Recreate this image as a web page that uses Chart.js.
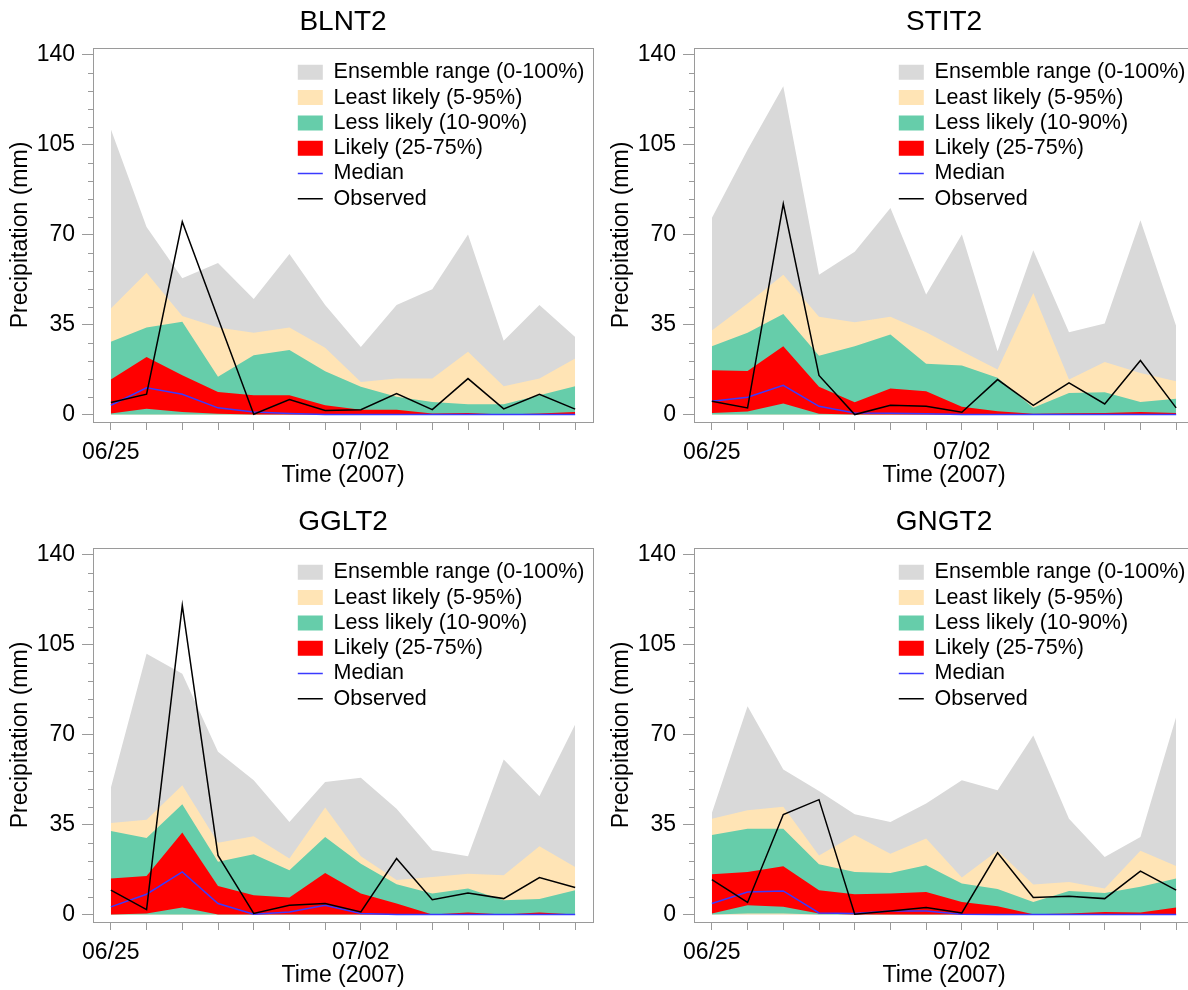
<!DOCTYPE html>
<html>
<head>
<meta charset="utf-8">
<title>Ensemble precipitation</title>
<script src="https://cdn.jsdelivr.net/npm/chart.js@4.4.1/dist/chart.umd.min.js"></script>
<style>
  html, body { margin: 0; padding: 0; background: #fff; width: 1188px; height: 990px; overflow: hidden; }
  .panel { position: absolute; width: 600px; height: 495px; }
</style>
</head>
<body>
<div class="panel" style="left:0;top:0"><canvas id="blnt2" width="600" height="495"></canvas></div>
<div class="panel" style="left:601px;top:0"><canvas id="stit2" width="600" height="495"></canvas></div>
<div class="panel" style="left:0;top:500px"><canvas id="gglt2" width="600" height="495"></canvas></div>
<div class="panel" style="left:601px;top:500px"><canvas id="gngt2" width="600" height="495"></canvas></div>
<script>
// daily dates, only two of them get a label
const days = ['06/25', '06/26', '06/27', '06/28', '06/29', '06/30', '07/01',
              '07/02', '07/03', '07/04', '07/05', '07/06', '07/07', '07/08'];
const shownDays = ['06/25', '07/02'];
const yMajorTicks = [0, 35, 70, 105, 140];
const yMinorTicks = [7, 14, 21, 28, 42, 49, 56, 63, 77, 84, 91, 98, 112, 119, 126, 133];
const zeroLine = [0, 0, 0, 0, 0, 0, 0, 0, 0, 0, 0, 0, 0, 0];

// BLNT2
const blntMax = [111, 73, 53, 59, 45, 62.5, 42.6, 26.3, 42.6, 48.7, 70, 28.7, 42.6, 30.2];
const blntP95 = [41.3, 55.2, 38.3, 33.9, 31.8, 33.9, 26, 12.7, 14, 14, 24.4, 11, 14, 21.8];
const blntP90 = [28.3, 33.9, 36.1, 14.7, 23.1, 25.1, 16.8, 10.8, 6.9, 4.9, 4, 4, 7.5, 11];
const blntP75 = [13.6, 22.4, 15.3, 8.8, 7.5, 7.5, 3.6, 1.9, 1.9, 0.4, 0.6, 0, 0.4, 1];
const blntP25 = [0.4, 2.3, 1, 0.3, 0, 0, 0, 0, 0, 0, 0, 0, 0, 0];
const blntP10 = [0, 0, 0, 0, 0, 0, 0, 0, 0, 0, 0, 0, 0, 0];
const blntMedian = [3.6, 10.4, 7.9, 2.6, 1, 0.4, 0, 0, 0, 0, 0, 0, 0, 0];
const blntObs = [4.7, 7.9, 75, 37.5, 0.1, 5.8, 1.6, 1.9, 8.2, 1.9, 14, 2.2, 7.9, 2.1];

// STIT2
const stitMax = [76.5, 103, 127.7, 54.4, 63.3, 80.4, 46.7, 70, 24.6, 63.9, 32, 35.4, 75.6, 34.4];
const stitP95 = [32.7, 43.2, 54.4, 38, 35.9, 38, 32, 24.6, 17.5, 47.3, 13.6, 20.4, 16.2, 13];
const stitP90 = [26.6, 31.8, 39.1, 22.9, 26.6, 31.1, 19.8, 19.1, 14.3, 2.6, 8.4, 8.7, 4.9, 6.1];
const stitP75 = [17.2, 16.9, 26.6, 10.8, 4.8, 10.1, 9.1, 3, 1.3, 0.3, 0.5, 0.6, 1, 0.6];
const stitP25 = [0.6, 1.2, 4.3, 0.3, 0, 0, 0, 0, 0, 0, 0, 0, 0, 0];
const stitP10 = [0, 0, 0, 0, 0, 0, 0, 0, 0, 0, 0, 0, 0, 0];
const stitMedian = [5.2, 6.7, 11.4, 3.2, 0.6, 0.5, 0.3, 0, 0, 0, 0, 0, 0, 0];
const stitObs = [5.2, 2.6, 82, 15.2, 0, 3.6, 3.2, 0.9, 13.6, 3.6, 12.3, 4.1, 21, 2.6];

// GGLT2
const ggltMax = [49.3, 101.5, 93.7, 63.3, 52.2, 36, 51.6, 53.2, 41.2, 25, 22.7, 60.3, 46, 73.9];
const ggltP95 = [35.6, 36.9, 50.3, 27.9, 30.5, 21.8, 41.6, 22.7, 13.4, 14.6, 15.9, 15.3, 26.6, 18.5];
const ggltP90 = [32.5, 29.8, 42.9, 20.5, 23.5, 17.2, 30.2, 19.8, 11.8, 8.2, 10.1, 5.6, 6, 9.5];
const ggltP75 = [14, 15, 31.9, 11.1, 7.5, 6.6, 16.2, 8.2, 4.3, 0, 0.8, 0, 0.8, 0];
const ggltP25 = [0, 0.4, 2.7, 0, 0, 0, 0, 0, 0, 0, 0, 0, 0, 0];
const ggltP10 = [0, 0, 0, 0, 0, 0, 0, 0, 0, 0, 0, 0, 0, 0];
const ggltMedian = [3, 7.9, 16.6, 4.3, 0.1, 1, 3.6, 0.4, 0, 0, 0, 0, 0, 0];
const ggltObs = [9.5, 1.9, 120.3, 23, 0.4, 3.6, 4.3, 1, 21.8, 5.8, 8.4, 6.2, 14.4, 10.5];

// GNGT2
const gngtMax = [39.5, 81, 56.4, 48.1, 39, 36, 43.2, 52.2, 48.4, 69.7, 37.3, 22.4, 30.2, 76.9];
const gngtP95 = [37.3, 40.6, 41.9, 23, 30.9, 23.7, 29.6, 14.4, 24.8, 11.7, 12.7, 10.1, 24.8, 18.9];
const gngtP90 = [30.9, 33.4, 33.4, 19.6, 16.6, 16.2, 19.2, 12.1, 9.9, 4.9, 9.2, 8.4, 10.8, 14];
const gngtP75 = [15.7, 16.6, 18.8, 9.5, 7.9, 8.2, 8.8, 4.9, 3.2, 0.1, 0.4, 1, 0.8, 2.7];
const gngtP25 = [0.4, 3.6, 3, 0.4, 0, 0, 0, 0, 0, 0, 0, 0, 0, 0];
const gngtP10 = [0, 0.4, 0.4, 0, 0, 0, 0, 0, 0, 0, 0, 0, 0, 0];
const gngtMedian = [4.3, 8.8, 9.2, 0.6, 0.4, 1.4, 1.4, 0.1, 0, 0, 0, 0, 0, 0];
const gngtObs = [13.6, 4.7, 38.9, 44.7, 0.1, 1.4, 2.7, 0.6, 24, 6.6, 7.1, 6.2, 16.9, 9.5];

const FRAME = '#9a9a9a';
const NONE = 'rgba(0,0,0,0)';

Chart.defaults.font.family = '"Liberation Sans", Arial, Helvetica, sans-serif';
Chart.defaults.color = '#000';

// box around the plot plus the short minor ticks on the y axis
const framePlugin = {
    id: 'frame',
    afterDatasetsDraw(chart) {
        const { ctx, chartArea: a, scales } = chart;
        ctx.save();
        ctx.strokeStyle = FRAME;
        ctx.lineWidth = 1;
        ctx.strokeRect(a.left + 0.5, a.top + 0.5, a.right - a.left, a.bottom - a.top);
        ctx.beginPath();
        yMinorTicks.forEach(v => {
            const py = Math.round(scales.y.getPixelForValue(v)) + 0.5;
            ctx.moveTo(a.left - 5, py);
            ctx.lineTo(a.left + 0.5, py);
        });
        ctx.stroke();
        ctx.restore();
    }
};

// move the legend into the upper right part of the plot
const legendPlacer = {
    id: 'legendPlacer',
    afterLayout(chart) {
        const lg = chart.legend;
        const a = chart.chartArea;
        lg.left = a.left + 201;
        lg.right = lg.left + lg.width;
        lg.top = a.top + 9.75;
    }
};

function band(lower, upper, label, color, order) {
    return [
        { data: lower, borderColor: NONE, backgroundColor: NONE, fill: false, order: order },
        { label: label, data: upper, borderColor: NONE, borderWidth: 0, backgroundColor: color, fill: '-1', order: order }
    ];
}

function createPanel(canvasId, name, mx, p95, p90, p75, p25, p10, median, obs) {
    const ctx = document.getElementById(canvasId);
    return new Chart(ctx, {
        type: 'line',
        data: {
            labels: days,
            datasets: [
                ...band(zeroLine, mx, 'Ensemble range (0-100%)', '#d9d9d9', 5),
                ...band(zeroLine, p95, 'Least likely (5-95%)', '#ffe4b5', 4),
                ...band(p10, p90, 'Less likely (10-90%)', '#66cdaa', 3),
                ...band(p25, p75, 'Likely (25-75%)', '#ff0000', 2),
                { label: 'Median', data: median, borderColor: '#3a3aff', backgroundColor: '#3a3aff', borderWidth: 1.5, fill: false, order: 1 },
                { label: 'Observed', data: obs, borderColor: '#000', backgroundColor: '#000', borderWidth: 1.5, fill: false, order: 0 }
            ]
        },
        options: {
            responsive: false,
            animation: false,
            layout: { padding: { left: 0, right: 7, top: 0, bottom: 0 } },
            elements: { point: { radius: 0 }, line: { tension: 0 } },
            plugins: {
                title: {
                    display: true,
                    text: name,
                    fullSize: false,
                    color: '#000',
                    font: { size: 28, weight: 'normal' },
                    padding: { top: 5.7, bottom: 8.7 }
                },
                legend: {
                    position: 'chartArea',
                    align: 'start',
                    labels: {
                        usePointStyle: true,
                        pointStyleWidth: 25,
                        boxHeight: 15,
                        padding: 3.8,
                        color: '#000',
                        font: { size: 21.5 },
                        generateLabels(chart) {
                            return chart.data.datasets
                                .map((ds, i) => ({ ds, i }))
                                .filter(o => o.ds.label)
                                .map(({ ds, i }) => ({
                                    text: ds.label,
                                    fillStyle: ds.fill ? ds.backgroundColor : NONE,
                                    strokeStyle: ds.borderColor,
                                    lineWidth: ds.fill ? 0 : ds.borderWidth,
                                    pointStyle: ds.fill ? 'rect' : 'line',
                                    fontColor: '#000',
                                    hidden: false,
                                    datasetIndex: i
                                }));
                        }
                    }
                },
                tooltip: { enabled: false }
            },
            scales: {
                x: {
                    type: 'category',
                    offset: true,
                    border: { display: false },
                    grid: { offset: false, drawOnChartArea: false, tickLength: 8, color: FRAME },
                    ticks: {
                        autoSkip: false,
                        maxRotation: 0,
                        padding: 9,
                        color: '#000',
                        font: { size: 23 },
                        callback: (value, index) => shownDays.includes(days[index]) ? days[index] : ''
                    },
                    title: {
                        display: true,
                        text: 'Time (2007)',
                        color: '#000',
                        font: { size: 23 },
                        padding: { top: 0, bottom: 6 }
                    },
                    afterFit(scale) { scale.height = 73; }
                },
                y: {
                    min: -2.9,
                    max: 142.6,
                    border: { display: false },
                    afterBuildTicks(scale) { scale.ticks = yMajorTicks.map(v => ({ value: v })); },
                    grid: { drawOnChartArea: false, tickLength: 11, color: FRAME },
                    ticks: { padding: 7, color: '#000', font: { size: 23 } },
                    title: {
                        display: true,
                        text: 'Precipitation (mm)',
                        color: '#000',
                        font: { size: 23 },
                        padding: { top: 7, bottom: 0 }
                    },
                    afterFit(scale) { scale.width = 93; }
                }
            }
        },
        plugins: [framePlugin, legendPlacer]
    });
}

createPanel('blnt2', 'BLNT2', blntMax, blntP95, blntP90, blntP75, blntP25, blntP10, blntMedian, blntObs);
createPanel('stit2', 'STIT2', stitMax, stitP95, stitP90, stitP75, stitP25, stitP10, stitMedian, stitObs);
createPanel('gglt2', 'GGLT2', ggltMax, ggltP95, ggltP90, ggltP75, ggltP25, ggltP10, ggltMedian, ggltObs);
createPanel('gngt2', 'GNGT2', gngtMax, gngtP95, gngtP90, gngtP75, gngtP25, gngtP10, gngtMedian, gngtObs);
</script>
</body>
</html>
